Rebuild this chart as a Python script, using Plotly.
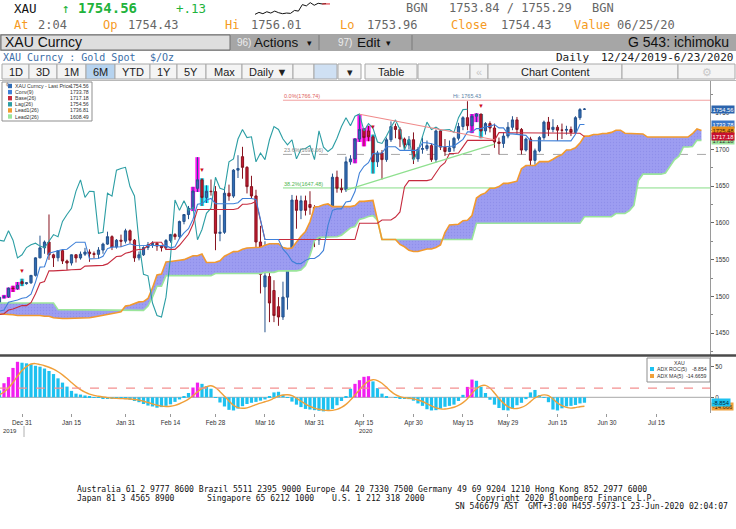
import plotly.graph_objects as go
import pandas as pd

W, H = 736, 529
MONO = "DejaVu Sans Mono"
SANS = "Liberation Sans"

# ---------------- data ----------------
days = pd.bdate_range("2019-12-24", periods=157)   # Dec 24 2019 .. Jul 29 2020 (cloud runs 26 days ahead)
N = 131                                              # candles up to Jun 23 2020

opens = [1486.5, 1498.8, 1499.5, 1511.2, 1510.6, 1520.0, 1517.3, 1518.5, 1528.6, 1552.4,
         1566.0, 1573.9, 1556.5, 1552.5, 1562.2, 1548.1, 1545.4, 1556.6, 1552.3, 1557.4,
         1560.3, 1558.1, 1557.2, 1563.0, 1571.1, 1581.2, 1567.2, 1576.4, 1575.1, 1589.2,
         1576.4, 1552.4, 1556.6, 1566.4, 1570.2, 1572.3, 1568.4, 1566.2, 1575.9, 1584.0,
         1581.2, 1601.9, 1611.3, 1619.8, 1647.0, 1658.5, 1634.6, 1643.0, 1642.5, 1585.7,
         1587.2, 1640.3, 1636.4, 1671.7, 1690.0, 1675.5, 1649.3, 1636.6, 1574.0, 1513.0,
         1527.0, 1508.0, 1486.0, 1472.0, 1499.0, 1553.0, 1631.0, 1617.0, 1630.0, 1625.0,
         1621.0, 1577.0, 1591.0, 1613.0, 1620.0, 1662.0, 1647.0, 1645.0, 1683.0, 1687.0,
         1714.0, 1727.0, 1725.0, 1717.0, 1683.0, 1695.0, 1686.0, 1713.0, 1731.0, 1727.0,
         1714.0, 1706.0, 1713.0, 1687.0, 1700.0, 1701.0, 1705.0, 1686.0, 1725.0, 1703.0,
         1697.0, 1702.0, 1715.0, 1731.0, 1743.0, 1732.0, 1745.0, 1748.0, 1725.0, 1735.0,
         1729.0, 1710.0, 1708.0, 1718.0, 1730.0, 1740.0, 1727.0, 1699.0, 1714.0, 1685.0,
         1698.0, 1716.0, 1737.0, 1727.0, 1730.0, 1726.0, 1726.0, 1727.0, 1723.0, 1743.0,
         1754.43]
highs = [1499.5, 1502.0, 1512.0, 1514.5, 1519.6, 1524.0, 1519.5, 1528.8, 1553.0, 1582.6,
         1576.0, 1611.4, 1558.0, 1562.7, 1563.0, 1550.0, 1557.0, 1557.0, 1561.0, 1566.0,
         1564.0, 1561.0, 1567.0, 1573.0, 1588.0, 1583.0, 1578.0, 1584.0, 1592.0, 1591.0,
         1578.0, 1561.0, 1568.0, 1574.0, 1575.0, 1574.0, 1570.0, 1578.0, 1585.0, 1586.0,
         1603.0, 1612.0, 1623.0, 1649.0, 1689.3, 1660.7, 1651.0, 1659.0, 1650.0, 1611.0,
         1649.0, 1652.0, 1673.0, 1692.0, 1703.4, 1677.0, 1664.0, 1645.0, 1596.0, 1575.0,
         1548.0, 1522.0, 1499.0, 1520.0, 1558.0, 1638.0, 1637.0, 1637.0, 1637.0, 1643.0,
         1624.0, 1595.0, 1617.0, 1626.0, 1667.0, 1671.0, 1660.0, 1690.0, 1692.0, 1715.0,
         1747.7, 1729.0, 1732.0, 1720.0, 1698.0, 1699.0, 1716.0, 1738.0, 1735.0, 1730.0,
         1716.0, 1718.0, 1723.0, 1703.0, 1716.0, 1712.0, 1708.0, 1727.0, 1726.0, 1714.0,
         1712.0, 1717.0, 1736.0, 1745.0, 1765.4, 1748.0, 1749.0, 1748.0, 1737.0, 1738.0,
         1735.0, 1716.0, 1723.0, 1737.0, 1745.0, 1744.0, 1729.0, 1716.0, 1717.0, 1701.0,
         1718.0, 1739.0, 1744.0, 1741.0, 1733.0, 1735.0, 1732.0, 1731.0, 1745.0, 1756.0,
         1756.01]
lows = [1485.8, 1497.0, 1498.0, 1506.0, 1509.0, 1514.0, 1516.0, 1517.0, 1527.0, 1552.0,
        1558.0, 1549.6, 1540.0, 1547.6, 1544.0, 1536.0, 1542.0, 1546.0, 1550.0, 1555.0,
        1547.0, 1552.0, 1551.0, 1558.0, 1570.0, 1563.0, 1565.0, 1567.0, 1572.0, 1572.0,
        1547.0, 1549.0, 1555.0, 1563.0, 1566.0, 1562.0, 1561.0, 1563.0, 1573.0, 1577.0,
        1578.0, 1598.0, 1605.0, 1616.0, 1642.0, 1623.0, 1627.0, 1637.0, 1562.8, 1575.0,
        1585.0, 1630.0, 1634.0, 1661.0, 1660.0, 1640.0, 1633.0, 1560.0, 1504.0, 1451.2,
        1465.0, 1465.0, 1460.0, 1468.0, 1482.0, 1550.0, 1592.0, 1605.0, 1610.0, 1611.0,
        1567.0, 1570.0, 1588.0, 1606.0, 1616.0, 1641.0, 1641.0, 1642.0, 1679.0, 1681.0,
        1710.0, 1704.0, 1711.0, 1667.0, 1676.0, 1659.0, 1683.0, 1710.0, 1715.0, 1703.0,
        1700.0, 1700.0, 1680.0, 1683.0, 1694.0, 1698.0, 1683.0, 1682.0, 1699.0, 1691.0,
        1696.0, 1697.0, 1712.0, 1726.0, 1726.0, 1722.0, 1737.0, 1715.0, 1720.0, 1723.0,
        1702.0, 1693.0, 1702.0, 1715.0, 1726.0, 1721.0, 1693.0, 1697.0, 1678.4, 1679.0,
        1696.0, 1713.0, 1718.0, 1723.0, 1711.5, 1714.0, 1720.0, 1718.0, 1721.0, 1740.0,
        1753.96]
closes = [1498.8, 1499.5, 1511.2, 1510.6, 1515.2, 1517.3, 1518.5, 1528.6, 1552.4, 1566.0,
          1573.9, 1556.5, 1552.5, 1562.2, 1548.1, 1545.4, 1556.6, 1552.3, 1557.4, 1560.3,
          1558.1, 1557.2, 1563.0, 1571.1, 1581.2, 1567.2, 1576.4, 1575.1, 1589.2, 1576.4,
          1552.4, 1556.6, 1566.4, 1570.2, 1572.3, 1568.4, 1566.2, 1575.9, 1584.0, 1581.2,
          1601.9, 1611.3, 1619.8, 1643.2, 1658.5, 1634.6, 1643.0, 1642.5, 1585.7, 1587.2,
          1640.3, 1636.4, 1671.7, 1673.9, 1675.5, 1649.3, 1636.6, 1574.0, 1530.0, 1528.0,
          1491.0, 1474.0, 1472.0, 1499.0, 1553.0, 1631.0, 1617.0, 1630.0, 1617.0, 1621.0,
          1577.0, 1591.0, 1613.0, 1620.0, 1662.0, 1647.0, 1645.0, 1683.0, 1687.0, 1714.0,
          1727.0, 1716.0, 1717.0, 1683.0, 1695.0, 1686.0, 1713.0, 1731.0, 1727.0, 1714.0,
          1706.0, 1713.0, 1687.0, 1700.0, 1701.0, 1705.0, 1686.0, 1725.0, 1703.0, 1697.0,
          1702.0, 1715.0, 1731.0, 1743.0, 1732.0, 1745.0, 1748.0, 1725.0, 1735.0, 1729.0,
          1710.0, 1708.0, 1718.0, 1730.0, 1740.0, 1727.0, 1699.0, 1714.0, 1685.0, 1698.0,
          1716.0, 1737.0, 1727.0, 1730.0, 1726.0, 1726.0, 1727.0, 1723.0, 1743.0, 1754.0,
          1754.56]

conv9 = [1480, 1481.5, 1492, 1493, 1495, 1497.5, 1498.5, 1503, 1519.4, 1539.8,
         1540.3, 1558.7, 1560.2, 1562.7, 1563.7, 1564.2, 1569.2, 1573.7, 1573.7, 1573.7,
         1551, 1551, 1551.5, 1554.5, 1565, 1567, 1567.5, 1567.5, 1569.5, 1571.5,
         1569.5, 1569.5, 1569.5, 1569.5, 1569.5, 1569.5, 1569.5, 1569, 1566, 1567.5,
         1579, 1586.5, 1592, 1605, 1625.2, 1626.2, 1631.2, 1633.2, 1626, 1626,
         1626, 1626, 1626, 1627.4, 1633.1, 1633.1, 1633.1, 1631.7, 1603.7, 1577.3,
         1577.3, 1577.3, 1577.3, 1564.1, 1557.6, 1548.1, 1544.6, 1544.6, 1549, 1551.5,
         1551.5, 1555.5, 1562.5, 1596.5, 1617, 1619, 1619, 1628.5, 1629.5, 1642.5,
         1667.9, 1676.9, 1681.9, 1694.4, 1694.4, 1694.9, 1703.4, 1703.4, 1703.4, 1698.5,
         1698.5, 1698.5, 1698.5, 1698.5, 1709, 1709, 1707.5, 1705, 1703.5, 1703.5,
         1703.5, 1704.5, 1709, 1713.5, 1723.7, 1723.7, 1728.2, 1728.2, 1730.7, 1731.2,
         1733.7, 1729.2, 1729.2, 1721, 1721, 1720.5, 1719, 1719, 1711.7, 1711.7,
         1711.7, 1711.7, 1711.7, 1711.2, 1711.2, 1711.2, 1711.2, 1711.5, 1720.5, 1733.8,
         1733.78]
base26 = [1475.3, 1476.5, 1481.5, 1482.8, 1485.3, 1487.5, 1487.5, 1491.4, 1503.5, 1518.3,
          1520.3, 1534.7, 1534.7, 1534.7, 1534.7, 1535.7, 1536.2, 1536.7, 1536.7, 1541.2,
          1541.2, 1541.2, 1541.2, 1542.2, 1544.2, 1548.6, 1554.2, 1554.7, 1558.7, 1560.2,
          1562.7, 1563.7, 1564.2, 1569.2, 1573.7, 1573.7, 1573.7, 1564, 1564, 1564,
          1569.5, 1577, 1584.5, 1598, 1618.2, 1618.2, 1618.2, 1618.2, 1618.2, 1618.2,
          1618.2, 1618.2, 1618.2, 1619.5, 1625.2, 1625.2, 1626.2, 1629.2, 1603.7, 1577.3,
          1577.3, 1577.3, 1577.3, 1577.3, 1577.3, 1577.3, 1577.3, 1577.3, 1577.3, 1577.3,
          1577.3, 1577.3, 1577.3, 1577.3, 1577.3, 1577.3, 1577.3, 1577.3, 1577.3, 1577.3,
          1599.5, 1599.5, 1599.5, 1599.5, 1599.5, 1603.9, 1603.9, 1603.9, 1607.9, 1614.9,
          1648.9, 1657.4, 1657.4, 1657.4, 1657.4, 1657.4, 1658.9, 1667.9, 1676.9, 1681.9,
          1694.4, 1694.4, 1694.9, 1703.4, 1712.2, 1712.2, 1712.2, 1712.2, 1712.2, 1712.2,
          1712.2, 1722.7, 1722.7, 1722.7, 1722.7, 1722.7, 1722.7, 1722.7, 1721.9, 1721.9,
          1721.9, 1721.9, 1721.9, 1721.9, 1721.9, 1721.9, 1721.9, 1721.9, 1721.9, 1721.9,
          1717.18]
lead1 = [1476, 1476, 1475, 1475, 1474, 1474, 1474, 1475, 1475, 1474,
         1473, 1473, 1471, 1470, 1470, 1470, 1470, 1470, 1470, 1471,
         1471, 1472, 1473, 1474, 1475, 1476, 1477.7, 1479, 1486.8, 1487.9,
         1490.2, 1492.5, 1493, 1497.2, 1511.5, 1529.1, 1530.3, 1546.7, 1547.5, 1548.7,
         1549.2, 1550, 1552.7, 1555.2, 1555.2, 1557.5, 1546.1, 1546.1, 1546.4, 1548.4,
         1554.6, 1557.8, 1560.9, 1561.1, 1564.1, 1565.9, 1566.1, 1566.6, 1566.9, 1569.4,
         1571.6, 1571.6, 1571.6, 1566.5, 1565, 1565.8, 1574.3, 1581.8, 1588.3, 1601.5,
         1621.7, 1622.2, 1624.7, 1625.7, 1622.1, 1622.1, 1622.1, 1622.1, 1622.1, 1623.5,
         1629.2, 1629.2, 1629.7, 1630.5, 1603.7, 1577.3, 1577.3, 1577.3, 1577.3, 1570.7,
         1567.5, 1562.7, 1561, 1561, 1563.2, 1564.4, 1564.4, 1566.4, 1569.9, 1586.9,
         1597.2, 1598.2, 1598.2, 1602.9, 1603.4, 1609.9, 1633.7, 1638.2, 1640.7, 1647,
         1647, 1649.4, 1653.7, 1653.7, 1655.7, 1656.7, 1673.7, 1678, 1678, 1678,
         1683.2, 1683.2, 1683.2, 1686.5, 1690.2, 1692.7, 1699, 1699.5, 1702, 1708.5,
         1718, 1718, 1720.2, 1720.2, 1721.5, 1721.7, 1723, 1726, 1726, 1721.9,
         1721.9, 1721.6, 1720.9, 1720.9, 1716.7, 1716.7, 1716.7, 1716.7, 1716.7, 1716.7,
         1716.7, 1716.7, 1716.7, 1716.7, 1721.2, 1727.8, 1725.48]
lead2 = [1491, 1491, 1491, 1491, 1491, 1491, 1491, 1491, 1491, 1491,
         1491, 1491, 1491, 1482, 1482, 1482, 1482, 1482, 1482, 1482,
         1482, 1482, 1482, 1482, 1482, 1482, 1481, 1481, 1481, 1481,
         1481, 1481, 1481, 1486.9, 1499, 1513.8, 1513.8, 1528.2, 1528.2, 1528.2,
         1528.2, 1528.2, 1528.2, 1528.2, 1528.2, 1528.2, 1528.2, 1528.2, 1531.2, 1531.2,
         1531.2, 1531.2, 1531.2, 1531.2, 1531.2, 1531.2, 1531.2, 1531.2, 1531.2, 1532.7,
         1532.7, 1532.7, 1534.7, 1534.7, 1534.7, 1534.7, 1534.7, 1536, 1542, 1555.5,
         1575.7, 1580.2, 1580.2, 1580.2, 1580.2, 1581.2, 1583.2, 1587.6, 1593.2, 1595,
         1604.7, 1606.2, 1608.7, 1609.7, 1603.7, 1577.3, 1577.3, 1577.3, 1577.3, 1577.3,
         1577.3, 1577.3, 1577.3, 1577.3, 1577.3, 1577.3, 1577.3, 1577.3, 1577.3, 1577.3,
         1577.3, 1577.3, 1577.3, 1577.3, 1577.3, 1577.3, 1599.5, 1599.5, 1599.5, 1599.5,
         1599.5, 1599.5, 1599.5, 1599.5, 1599.5, 1599.5, 1599.5, 1599.5, 1599.5, 1599.5,
         1599.5, 1599.5, 1599.5, 1599.5, 1599.5, 1599.5, 1599.5, 1599.5, 1599.5, 1599.5,
         1608.3, 1608.3, 1608.3, 1608.3, 1608.3, 1608.3, 1608.3, 1612.7, 1612.7, 1612.7,
         1616.7, 1623.7, 1657.7, 1666.2, 1666.2, 1666.2, 1666.2, 1666.2, 1667.7, 1676.7,
         1685.7, 1690.7, 1703.2, 1703.2, 1703.7, 1712.2, 1712.2]

adx_roc = [11, 23, 33, 48, 58, 56.5, 55.5, 54, 51.5, 50,
           47, 43, 38, 31, 24, 17.5, 10.5, 6, 4.5, 3,
           1.5, 0.5, -1, -1.5, -2, -2, -2.5, -2.5, -3, -4,
           -6, -8, -11, -13.5, -15, -17, -16, -14, -11.5, -7.5,
           -3.5, 1, 7, 16, 24, 22, 18, 14, 0.5, -8.5,
           -15, -20.5, -21.5, -18.5, -14.5, -11, -9, -7.5, -5.5, -3.5,
           1, 8, 9, 4, -1, -7, -12, -16, -19, -20,
           -21, -22, -23, -22, -19, -13, -6, 2, 14, 22,
           28, 33.5, 34.5, 26, 15, 6, 1.5, 0, -1, -1.5,
           -2, -3, -5.5, -10, -14, -19.5, -21.5, -21, -18.5, -15.5,
           -14, -12, -6, 4, 17, 29, 27, 17, 7, -4,
           -12, -17.5, -21, -21.5, -18.5, -13, -9, -3, 8, 12,
           3.5, -1, -8, -20, -21.5, -18, -15, -14, -12.5, -10,
           -8.854]
adx_ma = [4, 8.6, 15.2, 24.2, 34.6, 43.7, 50.2, 54.4, 55.1, 53.5,
          51.6, 49.1, 45.9, 41.8, 36.6, 30.7, 24.2, 17.8, 12.5, 8.3,
          5.1, 3.1, 1.7, 0.5, -0.5, -1.2, -1.8, -2.1, -2.4, -2.8,
          -3.6, -4.7, -6.4, -8.5, -10.7, -12.9, -14.5, -15.1, -14.7, -13.2,
          -10.5, -7.1, -2.9, 2.6, 8.9, 14, 17.4, 18.8, 15.7, 9.2,
          1.8, -5.9, -13, -16.8, -18, -17.2, -14.9, -12.1, -9.5, -7.3,
          -4.9, -1.5, 1.8, 3.7, 4.2, 2.6, -1.4, -6.4, -11, -14.8,
          -17.6, -19.6, -21, -21.6, -21.4, -19.8, -16.6, -11.6, -4.4, 3.8,
          12, 19.9, 26.4, 28.8, 27.4, 23, 16.6, 9.7, 4.3, 1,
          -0.6, -1.5, -2.6, -4.4, -6.9, -10.4, -14.1, -17.2, -18.9, -19.2,
          -18.1, -16.2, -13.2, -8.7, -2.2, 6.4, 14.2, 18.8, 19.4, 15.2,
          7, -1.9, -9.5, -15.2, -18.1, -18.3, -16.6, -13, -7.1, -1,
          2.3, 3.9, 2.9, -2.7, -9.4, -13.7, -16.5, -17.7, -16.8, -15.5,
          -14.6659]
adx_level = 15

magenta_days = [1, 2, 3, 4, 43, 44, 79, 80, 81, 82, 105, 106]
cyan_days = [5, 45, 46, 83, 107]
signal_days = [5, 45, 83, 107]

fib_start = "2020-03-20"
fib_levels = [1766.74, 1693.06, 1647.48]
fib_labels = ["0.0%(1766.74)", "23.6%(1693.06)", "38.2%(1647.48)"]
resist_line = (["2020-04-14", "2020-05-26"], [1747.7, 1713.0])
support_line = (["2020-04-09", "2020-05-26"], [1644.5, 1707.0])
hi_day, hi_value = "2020-05-18", 1765.43

legend_names = ["XAU Curncy - Last Price", "Conv(9)", "Base(26)", "Lag(26)", "Lead1(26)", "Lead2(26)"]
legend_values = ["1754.56", "1733.78", "1717.18", "1754.56", "1736.81", "1608.49"]
tag_values = [1712.18, 1754.56, 1733.78, 1725.48, 1717.18]

date_ticks = ["2019-12-31", "2020-01-15", "2020-01-31", "2020-02-14", "2020-02-28", "2020-03-16",
              "2020-03-31", "2020-04-15", "2020-04-30", "2020-05-15", "2020-05-29", "2020-06-15",
              "2020-06-30", "2020-07-15"]
date_labels = ["Dec 31", "Jan 15", "Jan 31", "Feb 14", "Feb 28", "Mar 16", "Mar 31", "Apr 15",
               "Apr 30", "May 15", "May 29", "Jun 15", "Jun 30", "Jul 15"]
price_ticks = [1450, 1500, 1550, 1600, 1650, 1700, 1750]

spark = [1712, 1718, 1714, 1720, 1716, 1722, 1717, 1714, 1716, 1715,
         1724, 1722, 1742, 1738, 1748, 1740, 1746, 1744, 1745, 1744]

# ---------------- colours ----------------
BLUE = "#2f6cb5"
RED = "#c41a30"
CONV = "#3f80d8"
BASE = "#c62b3e"
LAG = "#2c9ea4"
LEAD1 = "#f29a2e"
LEAD2 = "#9be59b"
CLOUD = "#9d9df1"
ORANGE_TXT = "#f59a23"
GREEN_TXT = "#1fb33c"


def px(x):
    return x / W


def py(y):
    return 1 - y / H


shapes = []
notes = []


def text(x, y, s, size=12, color="#222", family=MONO, anchor="left", **kw):
    notes.append(dict(x=px(x), y=py(y), xref="paper", yref="paper", text=s, showarrow=False,
                      xanchor=anchor, yanchor="middle", borderpad=0,
                      font=dict(size=size, color=color, family=family), **kw))


def rect(x0, y0, x1, y1, fill, line=None, width=1):
    shapes.append(dict(type="rect", xref="paper", yref="paper", x0=px(x0), x1=px(x1),
                       y0=py(y1), y1=py(y0), fillcolor=fill, layer="above",
                       line=dict(color=line if line else fill, width=width if line else 0)))


def hline(x0, x1, y, color, width=1, dash="solid"):
    shapes.append(dict(type="line", xref="paper", yref="paper", x0=px(x0), x1=px(x1),
                       y0=py(y), y1=py(y), layer="above", line=dict(color=color, width=width, dash=dash)))


def vline(x, y0, y1, color, width=1):
    shapes.append(dict(type="line", xref="paper", yref="paper", x0=px(x), x1=px(x),
                       y0=py(y0), y1=py(y1), layer="above", line=dict(color=color, width=width)))


fig = go.Figure()
DAY_MS = 86400000
cdays = days[:N]

# TD style highlight boxes behind candles
for idx, col in ((magenta_days, "#ff10f0"), (cyan_days, "#1fe3f5")):
    fig.add_trace(go.Bar(x=[cdays[i] for i in idx], y=[highs[i] - lows[i] for i in idx],
                         base=[lows[i] for i in idx], width=0.95 * DAY_MS, marker_color=col,
                         marker_line_width=0, hoverinfo="skip"))

# cloud
fig.add_trace(go.Scatter(x=days, y=lead2, mode="lines", line=dict(color=LEAD2, width=1.6),
                         hoverinfo="skip"))
fig.add_trace(go.Scatter(x=days, y=lead1, mode="lines", line=dict(color=LEAD1, width=1.6),
                         fill="tonexty", fillcolor=CLOUD,
                         fillpattern=dict(shape=".", bgcolor=CLOUD, fgcolor="#8282e4", size=3, solidity=0.2),
                         hoverinfo="skip"))

fig.add_trace(go.Scatter(x=days[:N - 26], y=closes[26:], mode="lines",
                         line=dict(color=LAG, width=1.1), hoverinfo="skip"))
fig.add_trace(go.Scatter(x=cdays, y=base26, mode="lines", line=dict(color=BASE, width=1.1),
                         hoverinfo="skip"))
fig.add_trace(go.Scatter(x=cdays, y=conv9, mode="lines", line=dict(color=CONV, width=1.1),
                         hoverinfo="skip"))

fig.add_trace(go.Candlestick(x=cdays, open=opens, high=highs, low=lows, close=closes,
                             whiskerwidth=0,
                             increasing=dict(line=dict(color="#25528c", width=1), fillcolor=BLUE),
                             decreasing=dict(line=dict(color="#86131f", width=1), fillcolor=RED),
                             hoverinfo="skip"))

# lower panel
roc_colors = []
for i, v in enumerate(adx_roc):
    prev = adx_roc[i - 1] if i else 0
    roc_colors.append("#f21ef0" if v > adx_level and v > prev else "#1dc1f0")
fig.add_trace(go.Bar(x=cdays, y=adx_roc, marker_color=roc_colors, marker_line_width=0,
                     width=0.72 * DAY_MS, xaxis="x2", yaxis="y2", hoverinfo="skip"))
fig.add_trace(go.Scatter(x=cdays, y=adx_ma, mode="lines", xaxis="x2", yaxis="y2",
                         line=dict(color="#f0a03a", width=1.4, shape="spline"), hoverinfo="skip"))

# header sparkline
fig.add_trace(go.Scatter(x=list(range(len(spark) - 1)), y=spark[:-1], mode="lines", xaxis="x3", yaxis="y3",
                         line=dict(color="#111", width=1), hoverinfo="skip"))
fig.add_trace(go.Scatter(x=list(range(len(spark) - 3, len(spark))), y=spark[-3:], mode="lines",
                         xaxis="x3", yaxis="y3", line=dict(color="#e0202a", width=1), hoverinfo="skip"))

# ---------------- chart overlays ----------------
x_end = "2020-07-30 21:36"
fib_colors = ["#f2a0a0", "#a8a8a8", "#86dd86"]
fib_text = ["#e06060", "#8a8a8a", "#4fb44f"]
fib_dash = ["solid", "dash", "solid"]
for lvl, lab, lc, tc, dsh in zip(fib_levels, fib_labels, fib_colors, fib_text, fib_dash):
    shapes.append(dict(type="line", xref="x", yref="y", x0=fib_start, x1=x_end, y0=lvl, y1=lvl,
                       layer="below", line=dict(color=lc, width=1, dash=dsh)))
    notes.append(dict(x=fib_start, y=lvl, xref="x", yref="y", text=lab, showarrow=False,
                      xanchor="left", yanchor="bottom", borderpad=0,
                      font=dict(size=5.5, color=tc, family=SANS)))

for (xs, ys), col in ((resist_line, "#f08a8a"), (support_line, "#8fe08f")):
    shapes.append(dict(type="line", xref="x", yref="y", x0=xs[0], x1=xs[1], y0=ys[0], y1=ys[1],
                       layer="above", line=dict(color=col, width=1.2)))

notes.append(dict(x=hi_day, y=hi_value, xref="x", yref="y", text="Hi: 1765.43", showarrow=False,
                  yanchor="bottom", yshift=1, borderpad=0, font=dict(size=5.5, color="#5b7fa6", family=SANS)))

for i in signal_days:
    notes.append(dict(x=cdays[i], y=highs[i], xref="x", yref="y", text="▼", showarrow=False,
                      yanchor="bottom", yshift=3, borderpad=0, font=dict(size=6, color="#d0101a")))

# threshold / zero lines of lower panel
shapes.append(dict(type="line", xref="paper", yref="y2", x0=0, x1=px(710), y0=adx_level, y1=adx_level,
                   layer="above", line=dict(color="#f39090", width=1.2, dash="dash")))
shapes.append(dict(type="line", xref="paper", yref="y2", x0=0, x1=px(710), y0=0, y1=0,
                   layer="below", line=dict(color="#a8a8a8", width=1)))

# main legend box
rect(2, 82, 92, 121, "white", "#8f8f8f")
leg_cols = [BLUE, CONV, BASE, LAG, LEAD1, LEAD2]
for k, (nm, val, col) in enumerate(zip(legend_names, legend_values, leg_cols)):
    yy = 86 + k * 6.1
    rect(8, yy - 2.2, 12, yy + 2.2, col)
    text(13.5, yy, nm, 5.2, "#333", SANS)
    text(90, yy, val, 5.2, "#333", SANS, anchor="right")
text(4.5, 84.5, "ϕ", 5, "#777", SANS)

# lower legend box
rect(647, 358, 710, 382, "white", "#8f8f8f")
text(679, 363, "XAU", 5.2, "#333", SANS, anchor="center")
rect(650, 367, 654, 371, "#1dc1f0")
text(656, 369.2, "ADX ROC(5)", 5.2, "#333", SANS)
text(708, 369.2, "-8.854", 5.2, "#333", SANS, anchor="right")
rect(650, 374, 654, 378, "#f0a03a")
text(656, 376, "ADX MA(5)", 5.2, "#333", SANS)
text(708, 376, "-14.6659", 5.2, "#333", SANS, anchor="right")

# value tags on the right axis
tag_bg = [LEAD2, "#2c64ad", "#3b78c8", "#e8901c", "#c8102e"]
tag_fg = ["#333", "white", "white", "#3a2000", "white"]
for v, bg, fg in zip(tag_values, tag_bg, tag_fg):
    notes.append(dict(x=px(711), y=v, xref="paper", yref="y", text=f"{v:.2f}", showarrow=False,
                      xanchor="left", yanchor="middle", bgcolor=bg, borderpad=0.6,
                      font=dict(size=5.8, color=fg, family=SANS)))
for v, bg, fg, s in ((-14.6659, "#f0a03a", "#3a2000", "-14.666"), (-8.854, "#1dc1f0", "#062a3a", "-8.854")):
    notes.append(dict(x=px(711), y=v, xref="paper", yref="y2", text=s, showarrow=False,
                      xanchor="left", yanchor="middle", bgcolor=bg, borderpad=0.6,
                      font=dict(size=5.8, color=fg, family=SANS)))

# panel separator, year labels
hline(0, 736, 355.5, "#4a4a4a", 2.5)
text(10, 431, "2019", 6, "#333", SANS, anchor="center")
text(366, 431, "2020", 6, "#333", SANS, anchor="center")
vline(24, 426, 437, "#b0b0b0")

# ---------------- header ----------------
text(13, 8, "XAU", 12.5, "#111")
text(61, 8, "↑", 13, GREEN_TXT)
text(77, 8, "<b>1754.56</b>", 14, GREEN_TXT)
text(175, 8, "+.13", 12.5, GREEN_TXT)
text(405, 8, "BGN", 12, "#666")
text(448, 8, "1753.84 / 1755.29", 12, "#666")
text(591, 8, "BGN", 12, "#666")

row2 = [(13, "At", ORANGE_TXT), (37, "2:04", "#666"), (102, "Op", ORANGE_TXT), (127, "1754.43", "#666"),
        (224, "Hi", ORANGE_TXT), (250, "1756.01", "#666"), (339, "Lo", ORANGE_TXT), (366, "1753.96", "#666"),
        (450, "Close", ORANGE_TXT), (500, "1754.43", "#666"), (573, "Value", ORANGE_TXT),
        (616, "06/25/20", "#666")]
for x, s, c in row2:
    text(x, 25, s, 12, c)

rect(0, 34, 736, 51, "#a6a6a6")
rect(1, 35, 230, 50, "#dedede", "#6e6e6e")
text(4, 42.5, "XAU Curncy", 14, "#111", SANS)
text(236, 42.5, "96)", 10, "#ececec", SANS)
text(253, 42.5, "Actions", 13.5, "#111", SANS)
text(306, 43, "▾", 9, "#111", SANS)
vline(319, 35, 50, "#7a7a7a")
text(337, 42.5, "97)", 10, "#ececec", SANS)
text(356, 42.5, "Edit", 13.5, "#111", SANS)
text(385, 43, "▾", 9, "#111", SANS)
vline(412, 35, 50, "#7a7a7a")
text(730, 42.5, "G 543: ichimoku", 14, "#111", SANS, anchor="right")

text(2, 57, "XAU Curncy : Gold Spot", 10, "#3a6ea8")
text(149, 57, "$/Oz", 10, "#3a6ea8")
text(555, 57, "Daily", 11, "#222")
text(734, 57, "12/24/2019-6/23/2020", 11, "#222", anchor="right")

buttons = [("1D", 2, 29), ("3D", 29, 57), ("1M", 57, 86), ("6M", 86, 115), ("YTD", 115, 150),
           ("1Y", 150, 177), ("5Y", 177, 206), ("Max", 206, 242), ("Daily ▼", 242, 293),
           ("", 293, 314), ("", 314, 337), ("▾", 338, 361), ("Table", 365, 417), ("", 418, 470),
           ("«", 470, 488), ("Chart Content", 488, 622), ("", 622, 678), ("⚙", 678, 735)]
for lab, x0, x1 in buttons:
    fill = "#b6d3ef" if lab == "6M" else ("#cfe0f3" if x0 == 314 else "#f4f4f4")
    rect(x0, 64, x1, 79, fill, "#a8a8a8")
    if lab:
        col = "#c8c8c8" if lab in ("«", "⚙") else "#222"
        text((x0 + x1) / 2, 71.5, lab, 11, col, SANS, anchor="center")
hline(0, 736, 80.5, "#b8b8b8", 1)

# ---------------- footer ----------------
FOOT = 8.1
text(76, 488.8, "Australia 61 2 9777 8600 Brazil 5511 2395 9000 Europe 44 20 7330 7500 "
                "Germany 49 69 9204 1210 Hong Kong 852 2977 6000", FOOT, "#111")
text(76, 497.6, "Japan 81 3 4565 8900", FOOT, "#111")
text(206, 497.6, "Singapore 65 6212 1000", FOOT, "#111")
text(331, 497.6, "U.S. 1 212 318 2000", FOOT, "#111")
text(475, 497.6, "Copyright 2020 Bloomberg Finance L.P.", FOOT, "#111")
text(729, 506.4, "SN 546679 AST  GMT+3:00 H455-5973-1 23-Jun-2020 02:04:07", FOOT, "#111", anchor="right")

# ---------------- axes ----------------
breaks = [dict(bounds=["sat", "mon"])]
x_range = ["2019-12-24 02:40", x_end]
tick_font = dict(size=6.3, color="#333", family=SANS)

fig.update_layout(
    width=W, height=H, margin=dict(l=0, r=0, t=0, b=0),
    paper_bgcolor="white", plot_bgcolor="white",
    showlegend=False, barmode="overlay", hovermode=False,
    shapes=shapes, annotations=notes,
    xaxis=dict(type="date", domain=[0, px(710)], range=x_range, rangebreaks=breaks, anchor="y",
               showticklabels=False, showgrid=False, zeroline=False, ticks="",
               rangeslider=dict(visible=False)),
    yaxis=dict(domain=[py(355), py(81)], range=[1420.3, 1792.9], side="right", anchor="x",
               tickvals=price_ticks, ticks="outside", ticklen=3, tickcolor="#666", tickfont=tick_font,
               showline=True, linecolor="#9a9a9a", showgrid=False, zeroline=False,
               minor=dict(tickvals=[1425, 1475, 1525, 1575, 1625, 1675, 1725, 1775],
                          ticks="outside", ticklen=2, tickcolor="#888")),
    xaxis2=dict(type="date", domain=[0, px(710)], matches="x", rangebreaks=breaks, anchor="y2",
                tickvals=date_ticks, ticktext=date_labels, ticks="outside", ticklen=3,
                tickcolor="#999", tickfont=tick_font, showgrid=False, zeroline=False,
                showline=False),
    yaxis2=dict(domain=[py(413), py(357)], range=[-25.65, 65.85], side="right", anchor="x2",
                tickvals=[0, 50], ticks="outside", ticklen=3, tickcolor="#666", tickfont=tick_font,
                showline=True, linecolor="#9a9a9a", showgrid=False, zeroline=False),
    xaxis3=dict(domain=[px(255), px(330)], anchor="y3", visible=False),
    yaxis3=dict(domain=[py(15), py(2)], anchor="x3", visible=False),
)

# the page body has a default margin; drop it so the figure fills the window exactly
fig.write_html("out.html", config={"displayModeBar": False},
               post_script="document.body.style.margin='0';")
